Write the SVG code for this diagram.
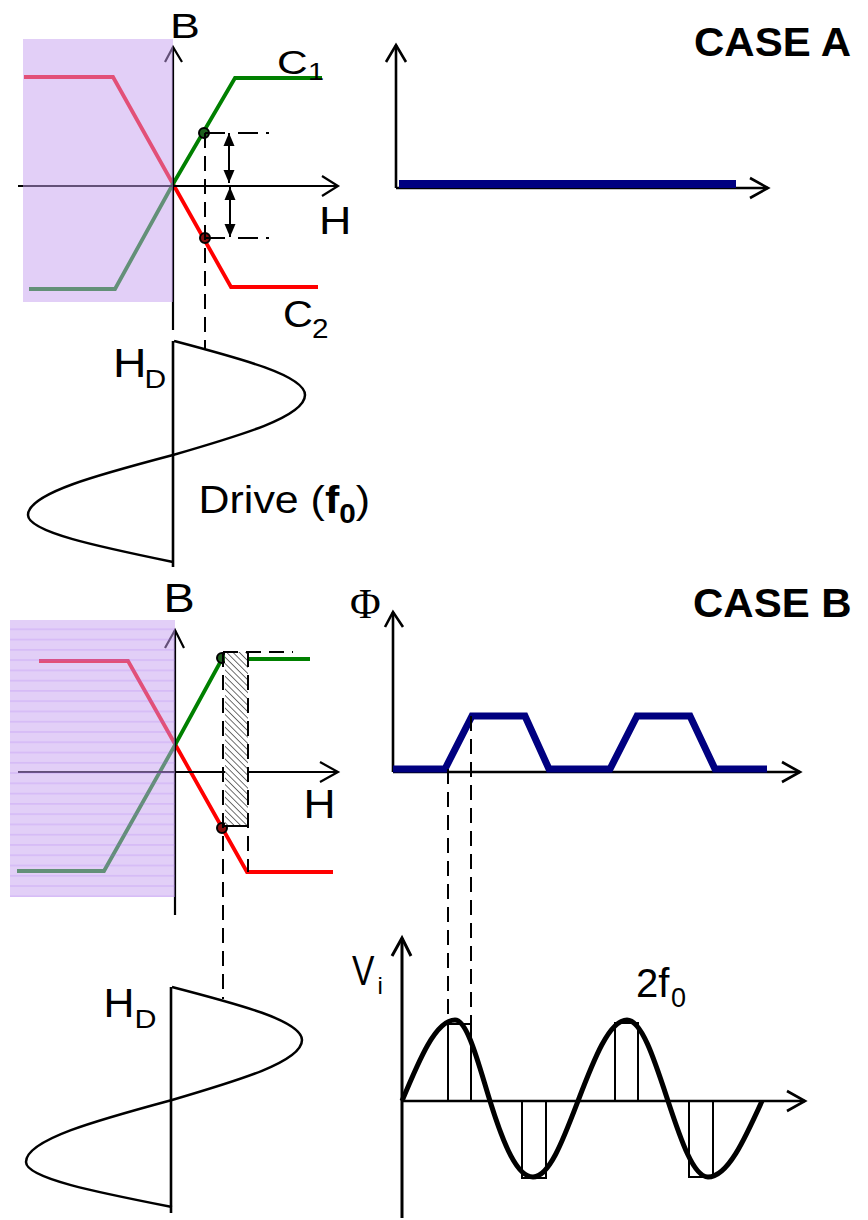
<svg xmlns="http://www.w3.org/2000/svg" width="868" height="1220" viewBox="0 0 868 1220">
<style>
.ax{stroke:#000;stroke-width:2.2;fill:none}
.axr{stroke:#000;stroke-width:2.6;fill:none}
.red{stroke:#ff0000;stroke-width:3.8;fill:none;stroke-linejoin:miter}
.grn{stroke:#008000;stroke-width:3.8;fill:none;stroke-linejoin:miter}
.wave{stroke:#000;stroke-width:2.5;fill:none}
.dash{stroke:#000;stroke-width:2;fill:none;stroke-dasharray:15 8}
.thin{stroke:#000;stroke-width:2;fill:none}
.blue{stroke:#000080;stroke-width:7;fill:none;stroke-linejoin:miter}
.ovl{fill:#c5a0f0;fill-opacity:0.5}
.t{font-family:"Liberation Sans",Arial,sans-serif;fill:#000}
.tb{font-family:"Liberation Sans",Arial,sans-serif;font-weight:bold;fill:#000}
</style>
<defs>
<marker id="ah" markerUnits="userSpaceOnUse" markerWidth="13" markerHeight="13" viewBox="0 0 13 13" refX="13" refY="6.5" orient="auto-start-reverse">
<path d="M0,1 L13,6.5 L0,12 z" fill="#000"/>
</marker>
<pattern id="hatch" patternUnits="userSpaceOnUse" width="4.5" height="4.5" patternTransform="rotate(-45)">
<line x1="0" y1="0" x2="0" y2="4.5" stroke="#333" stroke-width="1.4"/>
</pattern>
<pattern id="stripes" patternUnits="userSpaceOnUse" x="0" y="620" width="20" height="10.27">
<line x1="0" y1="9.3" x2="20" y2="9.3" stroke="#9a5ef0" stroke-opacity="0.3" stroke-width="1"/>
</pattern>
</defs>

<!-- CASE A : B-H characteristic -->
<g id="caseA-bh">
<polyline class="red" points="24,77 113,77 173,184 231,287 318,287"/>
<polyline class="grn" points="29,289 115,289 173,184 235,78 322,78"/>
<line class="ax" x1="18" y1="186" x2="338" y2="186"/>
<polyline class="ax" points="322,176 338,186 322,196"/>
<line class="ax" x1="173" y1="330" x2="173" y2="47"/>
<polyline class="ax" points="165,62 173,47 182,62"/>
<rect class="ovl" x="23" y="39" width="150" height="263"/>
<circle cx="204" cy="133" r="5" fill="#1d5f1d" stroke="#000" stroke-width="2"/>
<circle cx="205" cy="238" r="5" fill="#8a1010" stroke="#000" stroke-width="2"/>
<line class="thin" x1="205" y1="133" x2="270" y2="133" style="stroke-dasharray:20 13 20 8 3 20"/>
<line class="thin" x1="205" y1="238" x2="270" y2="238" style="stroke-dasharray:20 13 20 8 3 20"/>
<line class="thin" x1="229" y1="133" x2="229" y2="183" marker-start="url(#ah)" marker-end="url(#ah)"/>
<line class="thin" x1="230" y1="187" x2="230" y2="237" marker-start="url(#ah)" marker-end="url(#ah)"/>
<text class="t" font-size="35" transform="translate(170,38) scale(1.28,1)">B</text>
<text class="t" font-size="34" transform="translate(277,74) scale(1.25,1)">C</text>
<text class="t" font-size="24" transform="translate(308,80) scale(1.2,1)">1</text>
<text class="t" font-size="38" transform="translate(319,234) scale(1.18,1)">H</text>
<text class="t" font-size="37" transform="translate(283,327) scale(1.12,1)">C</text>
<text class="t" font-size="27" transform="translate(312,338) scale(1.1,1)">2</text>
</g>

<!-- CASE A : drive -->
<g id="caseA-drive">
<line class="axr" x1="173" y1="341" x2="173" y2="567"/>
<path class="wave" d="M174,341 C240.6,358.6 305,375.5 305,395 C305,416.7 240.6,435.4 173,455 C98.7,474.6 28,493.3 28,515 C28,532 98.7,546.7 173,562"/>
<text class="t" font-size="40" transform="translate(113,377) scale(1.16,1)">H</text>
<text class="t" font-size="25" transform="translate(144.6,388) scale(1.2,1)">D</text>
<text class="t" font-size="39" transform="translate(198.6,513) scale(1.1,1)">Drive (<tspan font-weight="bold">f</tspan><tspan font-weight="bold" font-size="27" dy="10">0</tspan><tspan dy="-10">)</tspan></text>
</g>

<!-- CASE A : output -->
<g id="caseA-output">
<line class="axr" x1="396" y1="188" x2="396" y2="45"/>
<polyline class="axr" points="386,62 396,45 406,62"/>
<line class="axr" x1="396" y1="188" x2="768" y2="188"/>
<polyline class="axr" points="750,178 768,188 750,198"/>
<rect x="399" y="180" width="337" height="8" fill="#000080"/>
<text class="tb" font-size="40" transform="translate(694,56) scale(1.05,1)">CASE A</text>
</g>

<!-- CASE B : B-H characteristic -->
<g id="caseB-bh">
<polyline class="red" points="39,661 128,661 175,744 247,872 333,872"/>
<polyline class="grn" points="17,871 104,871 175,745 222,659 310,659"/>
<line class="ax" x1="18" y1="772" x2="338" y2="772"/>
<polyline class="ax" points="320,762 338,772 320,782"/>
<line class="ax" x1="175" y1="915" x2="175" y2="630"/>
<polyline class="ax" points="165,648 175,630 184,648"/>
<rect class="ovl" x="10" y="620" width="165" height="277"/>
<rect x="10" y="620" width="165" height="277" fill="url(#stripes)"/>
<circle cx="222" cy="658" r="5" fill="#1d5f1d" stroke="#000" stroke-width="2"/>
<circle cx="222" cy="828" r="5" fill="#8a1010" stroke="#000" stroke-width="2"/>
<rect x="225" y="652" width="23" height="174" fill="#fff"/>
<rect x="225" y="652" width="23" height="174" fill="url(#hatch)"/>
<line class="thin" x1="222" y1="826" x2="248" y2="826"/>
<text class="t" font-size="40" transform="translate(163.6,612) scale(1.17,1)">B</text>
<text class="t" font-size="40" transform="translate(303.4,818) scale(1.11,1)">H</text>
</g>

<!-- CASE B : drive -->
<g id="caseB-drive">
<line class="axr" x1="171" y1="987" x2="171" y2="1213"/>
<path class="wave" d="M172,987 C238.6,1004.3 302,1020.8 302,1040 C302,1061.7 238.6,1080.4 172,1100 C97.2,1120.2 26,1139.6 26,1162 C26,1178.3 97.2,1192.3 172,1207"/>
<text class="t" font-size="40" transform="translate(103.6,1017) scale(1.07,1)">H</text>
<text class="t" font-size="25" transform="translate(134.6,1028) scale(1.22,1)">D</text>
</g>

<!-- CASE B : flux -->
<g id="caseB-flux">
<line class="axr" x1="393" y1="772" x2="393" y2="612"/>
<polyline class="axr" points="385,627 393,612 403,627"/>
<line class="axr" x1="393" y1="772" x2="800" y2="772"/>
<polyline class="axr" points="782,762 800,772 782,782"/>
<polyline class="blue" points="393,769 445,769 472,716 525,716 549,769 610,769 637,716 690,716 715,769 767,769"/>
<text font-family="'Liberation Serif','Times New Roman',serif" font-size="42" x="350" y="618">Φ</text>
<text class="tb" font-size="40" transform="translate(693,617) scale(1.05,1)">CASE B</text>
</g>

<!-- CASE B : induced voltage -->
<g id="caseB-voltage">
<line x1="402" y1="1218" x2="402" y2="938" stroke="#000" stroke-width="3"/>
<polyline points="392,956 402,938 411,956" stroke="#000" stroke-width="3" fill="none"/>
<line class="axr" x1="402" y1="1101" x2="805" y2="1101"/>
<polyline class="axr" points="787,1091 805,1101 787,1111"/>
<rect class="thin" x="448" y="1024" width="23" height="77"/>
<rect class="thin" x="522" y="1101" width="24" height="77"/>
<rect class="thin" x="615" y="1023" width="23" height="78"/>
<rect class="thin" x="689" y="1101" width="24" height="76"/>
<path d="M402,1101 C419.3,1059.5 435.8,1020 455,1020 C467.7,1020 478.6,1064.4 490,1101 C504,1146 517.4,1177 533,1177 C549.3,1177 563.3,1139.5 578,1101 C594,1059.1 609.3,1020 627,1020 C641.8,1020 654.6,1060.3 668,1101 C681,1140.5 693.5,1177 708,1177 C727.5,1177 744.4,1139.9 762,1101" stroke="#000" stroke-width="5" fill="none"/>
<text class="t" font-size="42" transform="translate(352,985) scale(0.8,1)">V</text>
<text class="t" font-size="24" x="377.4" y="994">i</text>
<text class="t" font-size="40" x="636" y="997">2f</text>
<text class="t" font-size="27" x="671" y="1007">0</text>
</g>

<!-- projection connectors -->
<g id="connectors">
<line class="dash" x1="205" y1="133" x2="205" y2="349"/>
<line class="dash" x1="223" y1="652" x2="223" y2="999"/>
<line class="dash" x1="223" y1="652" x2="293" y2="652"/>
<line class="dash" x1="248" y1="652" x2="248" y2="872"/>
<line class="dash" x1="448" y1="769" x2="448" y2="1024"/>
<line class="dash" x1="471" y1="716" x2="471" y2="1024"/>
</g>
</svg>
